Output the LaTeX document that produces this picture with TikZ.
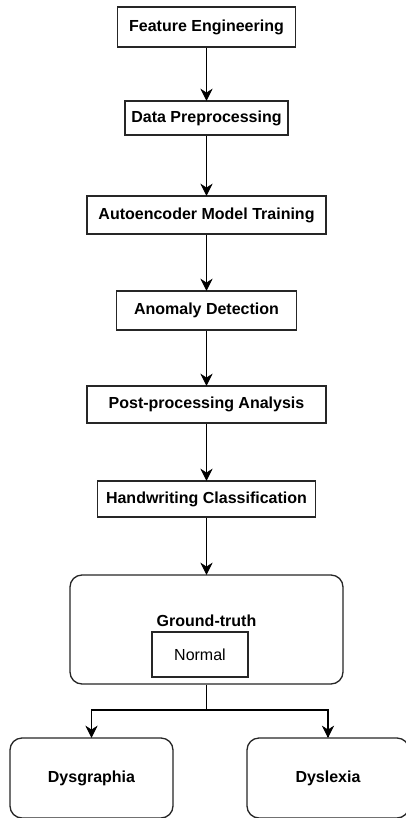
\documentclass[tikz,border=0pt]{standalone}
\usepackage{fontspec}
\setmainfont{Liberation Sans}
\begin{document}
\begin{tikzpicture}[x=1pt,y=1pt,
  stepbox/.style={draw=black!85,line width=1.3pt,fill=white,inner sep=0pt,font=\fontsize{16}{19}\selectfont\bfseries},
  roundbox/.style={draw=black!85,line width=1.3pt,fill=white,rounded corners=12pt,inner sep=0pt},
  flowline/.style={draw=black,line width=1.6pt},
  headfill/.style={fill=black,draw=black,line width=0.5pt,line join=miter}]
\useasboundingbox (0,0) rectangle (406,-818);
\node[stepbox,minimum width=178pt,minimum height=40pt] (fe) at (206.5,-27) {Feature Engineering};
\node[stepbox,minimum width=163pt,minimum height=34pt] (dp) at (206.5,-118) {Data Preprocessing};
\node[stepbox,minimum width=239pt,minimum height=38pt] (ae) at (206.5,-215) {Autoencoder Model Training};
\node[stepbox,minimum width=180pt,minimum height=39pt] (ad) at (206.5,-310.5) {Anomaly Detection};
\node[stepbox,minimum width=239pt,minimum height=37pt] (pp) at (206.5,-404.5) {Post-processing Analysis};
\node[stepbox,minimum width=218pt,minimum height=36pt] (hc) at (206.5,-499) {Handwriting Classification};
\node[roundbox,minimum width=273pt,minimum height=109pt] (gt) at (206.5,-629.5) {};
\node[font=\fontsize{16}{19}\selectfont\bfseries,inner sep=0pt] (gtl) at (206.5,-621) {Ground-truth};
\node[draw=black!85,line width=1.3pt,minimum width=96pt,minimum height=45pt,inner sep=0pt,font=\fontsize{16}{19}\selectfont] (nm) at (200,-654.5) {Normal};
\node[roundbox,minimum width=163pt,minimum height=80pt,font=\fontsize{16}{19}\selectfont\bfseries] (dg) at (91.5,-778) {Dysgraphia};
\node[roundbox,minimum width=162pt,minimum height=80pt,font=\fontsize{16}{19}\selectfont\bfseries] (dl) at (328,-778) {Dyslexia};
\coordinate (t1) at (fe.south |- dp.north);
\coordinate (t2) at (dp.south |- ae.north);
\coordinate (t3) at (ae.south |- ad.north);
\coordinate (t4) at (ad.south |- pp.north);
\coordinate (t5) at (pp.south |- hc.north);
\coordinate (t6) at (gt.north);
\coordinate (t7) at (dg.north);
\coordinate (t8) at (dl.north);
\coordinate (j) at (206.5,-710);
\draw[flowline] (fe.south) -- (t1);
\draw[flowline] (dp.south) -- (t2);
\draw[flowline] (ae.south) -- (t3);
\draw[flowline] (ad.south) -- (t4);
\draw[flowline] (pp.south) -- (t5);
\draw[flowline] (hc.south) -- (t6);
\draw[flowline] (gt.south) -- (j);
\draw[flowline] (j) -| (t7);
\draw[flowline] (j) -| (t8);
\foreach \t in {t1,t2,t3,t4,t5,t6,t7,t8}
  \filldraw[headfill] (\t) -- ++(-5.5,11) -- ++(5.5,-3.5) -- ++(5.5,3.5) -- cycle;
\end{tikzpicture}
\end{document}
